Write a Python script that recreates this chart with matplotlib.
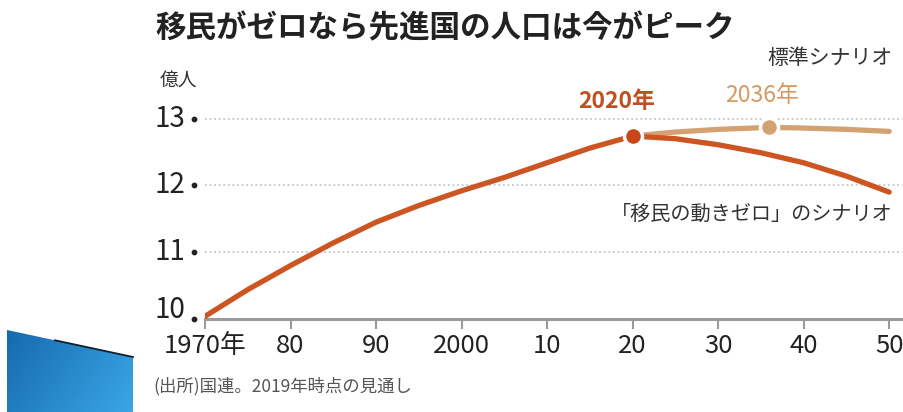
import matplotlib
matplotlib.use("Agg")
import matplotlib.pyplot as plt
import numpy as np
from matplotlib.colors import LinearSegmentedColormap
from matplotlib.patches import Polygon
from matplotlib.transforms import offset_copy

JP = "Noto Sans CJK JP"
plt.rcParams["font.family"] = [JP, "DejaVu Sans"]

# 先進地域の人口(億人)
hist_years = [1970, 1975, 1980, 1985, 1990, 1995, 2000, 2005, 2010, 2015, 2020]
hist_pop = [10.04, 10.44, 10.80, 11.14, 11.45, 11.70, 11.92, 12.12, 12.34, 12.56, 12.74]

proj_years = [2020, 2025, 2030, 2036, 2040, 2045, 2050]
standard_pop = [12.74, 12.80, 12.84, 12.87, 12.86, 12.84, 12.81]
zero_mig_years = [2020, 2025, 2030, 2035, 2040, 2045, 2050]
zero_mig_pop = [12.74, 12.70, 12.61, 12.49, 12.34, 12.14, 11.90]

peak_2020 = (2020, 12.74)
peak_2036 = (2036, 12.87)

y_ticks = [10, 11, 12, 13]
x_ticks = [1970, 1980, 1990, 2000, 2010, 2020, 2030, 2040, 2050]
x_labels = ["1970年", "80", "90", "2000", "10", "20", "30", "40", "50"]

RED = "#cc5522"
TAN = "#d4a271"
TEXT = "#333333"

W, H = 904, 412
fig = plt.figure(figsize=(W / 100, H / 100), dpi=100)


def fx(px):
    return px / W


def fy(py):
    return 1 - py / H


ax = fig.add_axes([fx(205), fy(319), fx(902 - 205), (319 - 100) / H])
ax.set_xlim(1970, 2051.5)
ax.set_ylim(10, 13.28)

for v in y_ticks[1:]:
    ax.axhline(v, color="#bdbdbd", lw=1.1, ls=(0, (1.2, 1.8)), zorder=1)

ax.plot(hist_years, hist_pop, color=RED, lw=3.8, solid_capstyle="round", zorder=3)
ax.plot(proj_years, standard_pop, color=TAN, lw=3.8, solid_capstyle="round", zorder=3)
ax.plot(zero_mig_years, zero_mig_pop, color=RED, lw=3.8, solid_capstyle="round", zorder=3)

ax.plot(*peak_2036, marker="o", ms=13, color=TAN, mec="white", mew=2.5, zorder=4)
ax.plot(*peak_2020, marker="o", ms=13, color="#c8461a", mec="white", mew=2.5, zorder=5)

for s in ["top", "right", "left"]:
    ax.spines[s].set_visible(False)
ax.spines["bottom"].set_color("#9a9a9a")
ax.spines["bottom"].set_linewidth(2.2)

ax.set_xticks(x_ticks)
ax.set_xticklabels(x_labels, fontsize=18.5, color="#222222")
ax.tick_params(axis="x", length=7, width=1.5, color="#9a9a9a", pad=3)

# y labels drawn by hand so the bottom one can sit above the year labels
ax.set_yticks([])
ytr = ax.get_yaxis_transform()
for v in y_ticks:
    lift = 9 if v == y_ticks[0] else 0
    tr = offset_copy(ytr, fig=fig, x=-20, y=lift, units="dots")
    ax.text(0, v, str(v), transform=tr, fontsize=20, color="#222222",
            ha="right", va="center", clip_on=False)

# small dots next to the y labels
dot_tr = offset_copy(ytr, fig=fig, x=-11, y=0, units="dots")
ax.scatter([0] * len(y_ticks), y_ticks, s=10, color="#222222",
           transform=dot_tr, clip_on=False, zorder=6)

# annotations
fig.text(fx(617), fy(101), "2020年", fontsize=16.5, fontweight="bold",
         color="#c0501f", ha="center", va="center")
fig.text(fx(762), fy(96), "2036年", fontsize=16.5, color="#d49a62",
         ha="center", va="center")
fig.text(fx(893), fy(58), "標準シナリオ", fontsize=15, color=TEXT,
         ha="right", va="center")
fig.text(fx(893), fy(214), "「移民の動きゼロ」のシナリオ", fontsize=14.5,
         color=TEXT, ha="right", va="center")

fig.text(fx(155), fy(28), "移民がゼロなら先進国の人口は今がピーク",
         fontsize=22, fontweight="bold", color="#222222", ha="left", va="center")
fig.text(fx(160), fy(80), "億人", fontsize=13.5, color="#333333",
         ha="left", va="center")
fig.text(fx(153), fy(386), "(出所)国連。2019年時点の見通し", fontsize=12.5,
         color="#555555", ha="left", va="center")

# blue slide bullet in the lower-left corner
deco = fig.add_axes([0, 0, 1, 1], zorder=-1)
deco.set_xlim(0, W)
deco.set_ylim(H, 0)
deco.axis("off")
shape = [(7, 330), (133, 357), (133, 412), (7, 412)]
grad = np.linspace(0, 1, 256)[None, :] * 0.7 + np.linspace(0, 1, 64)[:, None] * 0.3
blues = LinearSegmentedColormap.from_list("blue", ["#166aae", "#3aa6e6"])
img = deco.imshow(grad, cmap=blues, extent=(7, 133, 412, 330), aspect="auto")
clip = Polygon(shape, closed=True, transform=deco.transData, facecolor="none",
               edgecolor="none")
deco.add_patch(clip)
img.set_clip_path(clip)
deco.plot([55, 133], [340.3, 357], color="#102030", lw=1.3)

fig.savefig("out.png", dpi=100, facecolor="white")
